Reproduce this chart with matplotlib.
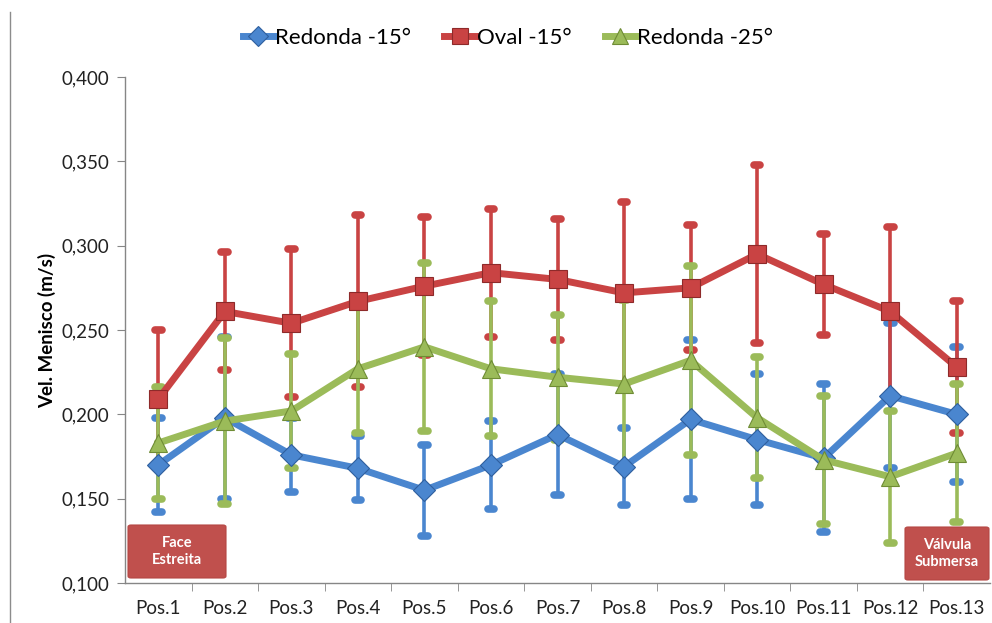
import matplotlib
matplotlib.use("Agg")
import matplotlib.pyplot as plt
import numpy as np
from matplotlib.patches import FancyBboxPatch
from matplotlib.lines import Line2D
from matplotlib.ticker import FuncFormatter, FixedLocator

plt.rcParams['font.family'] = ['Lato', 'DejaVu Sans']

positions = ["Pos.1", "Pos.2", "Pos.3", "Pos.4", "Pos.5", "Pos.6", "Pos.7",
             "Pos.8", "Pos.9", "Pos.10", "Pos.11", "Pos.12", "Pos.13"]

redonda15 = [0.170, 0.198, 0.176, 0.168, 0.155, 0.170, 0.188, 0.169, 0.197, 0.185, 0.174, 0.211, 0.200]
redonda15_err = [0.028, 0.048, 0.022, 0.019, 0.027, 0.026, 0.036, 0.023, 0.047, 0.039, 0.044, 0.043, 0.040]

oval15 = [0.209, 0.261, 0.254, 0.267, 0.276, 0.284, 0.280, 0.272, 0.275, 0.295, 0.277, 0.261, 0.228]
oval15_err = [0.041, 0.035, 0.044, 0.051, 0.041, 0.038, 0.036, 0.054, 0.037, 0.053, 0.030, 0.050, 0.039]

redonda25 = [0.183, 0.196, 0.202, 0.227, 0.240, 0.227, 0.222, 0.218, 0.232, 0.198, 0.173, 0.163, 0.177]
redonda25_err = [0.033, 0.049, 0.034, 0.038, 0.050, 0.040, 0.037, 0.050, 0.056, 0.036, 0.038, 0.039, 0.041]

series = [
    ("Redonda -15°", redonda15, redonda15_err, "#4A86CF", "#2E5F9E", "D", 11.5),
    ("Oval -15°", oval15, oval15_err, "#C94343", "#8E2A2A", "s", 12.5),
    ("Redonda -25°", redonda25, redonda25_err, "#9BBB59", "#6F8C35", "^", 13.5),
]

fig = plt.figure(figsize=(9.92, 6.23), dpi=100)
ax = fig.add_axes([125 / 992, 1 - 583 / 623, 865 / 992, 506 / 623])

x = np.arange(len(positions))

# error bars (symmetric) drawn beneath the lines
for name, vals, errs, col, edge, mk, ms in series:
    v = np.array(vals)
    e = np.array(errs)
    ax.vlines(x, v - e, v + e, colors=col, lw=2.6, zorder=1)
    caps = ax.hlines(np.concatenate([v - e, v + e]),
                     np.concatenate([x, x]) - 0.05, np.concatenate([x, x]) + 0.05,
                     colors=col, lw=5.5, zorder=1)
    caps.set_capstyle("round")

# series lines with markers
handles = []
for i, (name, vals, errs, col, edge, mk, ms) in enumerate(series):
    ln, = ax.plot(x, vals, color=col, lw=5, marker=mk, ms=ms,
                  markerfacecolor=col, markeredgecolor=edge, markeredgewidth=0.8,
                  solid_joinstyle="miter", zorder=3 + i, label=name)
    handles.append(ln)

ax.set_xlim(-0.5, len(positions) - 0.5)
ax.set_ylim(0.100, 0.400)
ax.set_yticks(np.arange(0.100, 0.4001, 0.050))
ax.yaxis.set_major_formatter(FuncFormatter(lambda v, p: f"{v:.3f}".replace(".", ",")))
ax.set_xticks(x)
ax.set_xticklabels(positions)
ax.xaxis.set_minor_locator(FixedLocator(np.arange(0.5, len(positions) - 0.5, 1.0)))
ax.tick_params(axis="x", which="major", length=0, pad=12, labelsize=13.5, labelcolor="#222222")
ax.tick_params(axis="x", which="minor", length=6, color="#868686", direction="out")
ax.tick_params(axis="y", length=6, color="#868686", direction="out", labelsize=13.5,
               pad=5, labelcolor="#222222")

for s in ["top", "right"]:
    ax.spines[s].set_visible(False)
for s in ["left", "bottom"]:
    ax.spines[s].set_color("#868686")
    ax.spines[s].set_linewidth(1.0)

ax.set_ylabel("Vel. Menisco (m/s)", fontsize=13.5, fontweight="bold", labelpad=4)

leg = fig.legend(handles=handles, loc="center", bbox_to_anchor=(0.512, 1 - 38 / 623),
                 ncol=3, frameon=False, fontsize=16, handlelength=1.4,
                 handletextpad=0.05, columnspacing=1.5, markerscale=0.9)

# annotation boxes
box_col = "#C0504D"
for (px0, py0, px1, py1, txt) in [(128, 525, 226, 578, "Face\nEstreita"),
                                   (905, 527, 989, 580, "Válvula\nSubmersa")]:
    fx0, fx1 = px0 / 992, px1 / 992
    fy0, fy1 = 1 - py1 / 623, 1 - py0 / 623
    box = FancyBboxPatch((fx0, fy0), fx1 - fx0, fy1 - fy0,
                         boxstyle="round,pad=0,rounding_size=0.003",
                         transform=fig.transFigure, facecolor=box_col,
                         edgecolor="#B54643", lw=0.8, zorder=10)
    fig.add_artist(box)
    fig.text((fx0 + fx1) / 2, (fy0 + fy1) / 2, txt, ha="center", va="center",
             color="white", fontsize=10.5, fontweight="bold", linespacing=1.3,
             zorder=11)

# left frame edge
fig.add_artist(Line2D([10 / 992, 10 / 992], [0, 1 - 12 / 623],
                      transform=fig.transFigure, color="#8C8C8C", lw=1.0))

fig.savefig("out.png", dpi=100)
